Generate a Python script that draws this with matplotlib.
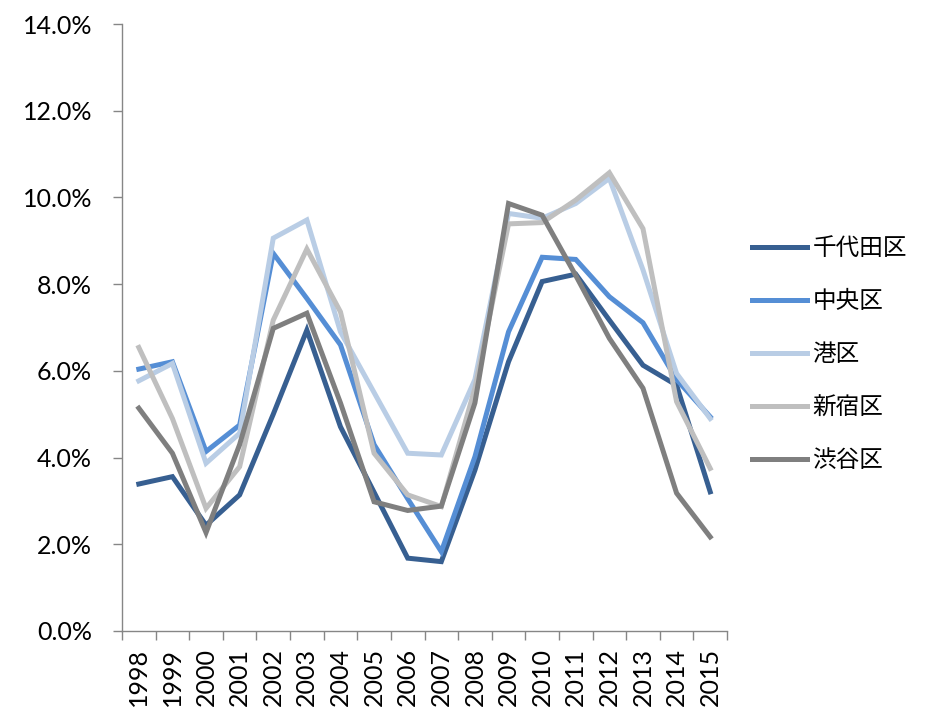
import matplotlib.pyplot as plt
from matplotlib.ticker import FixedLocator, PercentFormatter

years = [str(y) for y in range(1998, 2016)]

chiyoda = [3.39, 3.56, 2.44, 3.14, 5.0, 6.94, 4.71, 3.2, 1.68, 1.6,
           3.71, 6.21, 8.06, 8.23, 7.17, 6.13, 5.67, 3.21]
chuo = [6.04, 6.21, 4.14, 4.75, 8.71, 7.67, 6.6, 4.3, 3.05, 1.83,
        4.02, 6.9, 8.62, 8.57, 7.71, 7.11, 5.8, 4.94]
minato = [5.77, 6.17, 3.87, 4.56, 9.06, 9.48, 6.9, 5.5, 4.1, 4.06,
          5.8, 9.63, 9.52, 9.86, 10.44, 8.33, 5.94, 4.9]
shinjuku = [6.54, 4.9, 2.83, 3.79, 7.17, 8.81, 7.36, 4.1, 3.14, 2.87,
            5.6, 9.39, 9.42, 9.94, 10.57, 9.28, 5.29, 3.75]
shibuya = [5.14, 4.1, 2.27, 4.3, 6.98, 7.33, 5.26, 2.98, 2.78, 2.88,
           5.26, 9.86, 9.59, 8.2, 6.75, 5.6, 3.18, 2.17]

names = ["千代田区", "中央区", "港区", "新宿区", "渋谷区"]
colors = ["#375f91", "#558ed5", "#b9cde5", "#bfbfbf", "#7f7f7f"]

plt.rcParams['font.family'] = ['Lato', 'DejaVu Sans']

fig = plt.figure(figsize=(9.38, 7.14), dpi=100)
ax = fig.add_axes([122 / 938, 83 / 714, 605 / 938, 607 / 714])

x = list(range(len(years)))
for series, name, c in zip([chiyoda, chuo, minato, shinjuku, shibuya], names, colors):
    ax.plot(x, series, color=c, lw=3.6, label=name, solid_joinstyle='miter')

ax.set_xlim(-0.5, len(years) - 0.5)
ax.set_ylim(0, 14)
ax.set_yticks([0, 2, 4, 6, 8, 10, 12, 14])
ax.yaxis.set_major_formatter(PercentFormatter(decimals=1))

ax.set_xticks(x)
ax.set_xticklabels(years, rotation=90)
ax.xaxis.set_minor_locator(FixedLocator([i - 0.5 for i in range(len(years) + 1)]))
ax.tick_params(axis='x', which='major', length=0, pad=12, labelsize=18)
ax.tick_params(axis='x', which='minor', length=6.5, color='#868686', width=1)
ax.tick_params(axis='y', length=6.5, color='#868686', width=1, labelsize=18, pad=15)

for side in ['top', 'right']:
    ax.spines[side].set_visible(False)
for side in ['left', 'bottom']:
    ax.spines[side].set_color('#868686')
    ax.spines[side].set_linewidth(1)

leg = fig.legend(loc='center left', bbox_to_anchor=(731 / 938, 0.503), frameon=False,
                 prop={'family': ['Noto Sans CJK JP', 'DejaVu Sans'], 'size': 17},
                 handlelength=2.3, handletextpad=0.25, labelspacing=1.27)

fig.savefig('out.png', dpi=100)
